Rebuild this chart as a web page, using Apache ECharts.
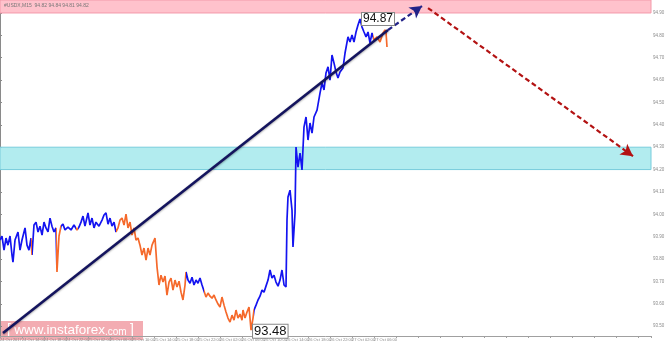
<!DOCTYPE html>
<html><head><meta charset="utf-8">
<script src="https://cdn.jsdelivr.net/npm/echarts@6/dist/echarts.min.js"></script>
<style>html,body{margin:0;padding:0;background:#fff}#c{width:665px;height:345px}</style>
</head><body><div id="c"></div>
<script>
// time in hours from 24 Oct 2017 ~10:00 (M15 chart)
const times = [0,0.36,0.73,1.09,1.45,1.82,2.18,2.36,2.73,3.27,3.64,4.0,4.55,4.91,5.27,5.64,5.82,6.18,6.55,6.91,7.27,7.64,8.0,8.36,8.73,9.09,9.45,9.82,10.18,10.36,10.73,11.09,11.45,11.82,12.36,12.91,13.45,14.0,14.36,14.73,15.09,15.45,16.0,16.36,16.73,17.09,17.45,18.0,18.55,18.91,19.27,19.64,20.0,20.36,20.73,21.09,21.45,21.82,22.18,22.55,22.91,23.27,23.64,24.0,24.36,24.73,25.09,25.45,25.82,26.18,26.55,26.91,27.27,27.64,28.18,28.55,28.91,29.27,29.64,30.0,30.36,30.73,31.09,31.45,31.82,32.18,32.55,32.91,33.27,33.64,33.82,34.18,34.55,34.91,35.27,35.64,36.0,36.36,36.73,37.09,37.45,37.82,38.18,38.55,38.91,39.27,39.64,40.0,40.36,40.73,41.09,41.45,41.82,42.18,42.55,42.91,43.27,43.64,44.0,44.18,44.55,44.91,45.27,45.45,45.64,46.0,46.18,46.55,46.91,47.27,47.64,48.0,48.36,48.73,49.09,49.45,49.82,50.18,50.55,50.91,51.27,51.64,52.0,52.18,52.36,52.73,53.09,53.27,53.64,53.82,54.18,54.55,54.91,55.27,55.64,56.0,56.36,56.73,57.09,57.64,58.18,58.55,58.91,59.27,59.64,60.0,60.36,60.73,61.09,61.45,61.82,62.36,62.73,63.27,63.64,64.0,64.36,64.73,65.09,65.45,65.82,66.18,66.55,66.91,67.27,67.64,68.0,68.55,69.09,69.64,70.0,70.18,70.36];
const prices = [93.885,93.903,93.840,93.894,93.862,93.903,93.818,93.786,93.885,93.921,93.840,93.885,93.939,93.862,93.840,93.894,93.818,93.952,93.965,93.921,93.947,93.907,93.965,93.939,93.921,93.983,93.947,93.921,93.939,93.742,93.903,93.947,93.956,93.930,93.943,93.930,93.952,93.930,93.943,93.965,93.992,93.947,94.006,93.952,93.983,93.939,93.965,93.947,93.974,93.997,94.006,93.956,93.983,93.947,93.965,93.921,93.939,93.974,93.983,93.952,94.001,93.939,93.965,93.907,93.939,93.885,93.894,93.862,93.818,93.849,93.795,93.849,93.818,93.862,93.894,93.764,93.684,93.728,93.697,93.724,93.639,93.697,93.715,93.661,93.706,93.675,93.701,93.652,93.617,93.684,93.742,93.706,93.692,93.719,93.684,93.706,93.692,93.715,93.684,93.657,93.630,93.648,93.634,93.625,93.639,93.617,93.599,93.585,93.630,93.594,93.563,93.536,93.518,93.549,93.527,93.572,93.536,93.554,93.527,93.572,93.536,93.563,93.585,93.536,93.482,93.536,93.572,93.594,93.617,93.634,93.661,93.652,93.679,93.706,93.751,93.715,93.728,93.697,93.679,93.706,93.751,93.684,93.675,93.974,94.077,94.108,94.019,93.854,94.006,94.301,94.211,94.274,94.198,94.390,94.435,94.332,94.408,94.363,94.435,94.466,94.542,94.587,94.556,94.632,94.659,94.600,94.712,94.676,94.636,94.609,94.636,94.654,94.721,94.793,94.770,94.802,94.770,94.815,94.846,94.873,94.837,94.815,94.793,94.815,94.766,94.811,94.779,94.793,94.770,94.811,94.824,94.815,94.748];
// falling legs (orange), in hours
const downLegs = [[5.6,5.9],[10.2,11.1],[13.9,14.1],[21.0,33.82],[37.0,46.1],[67.8,71]];
const lastPrice = 94.83;
const header = '#USDX,M15  94.82 94.84 94.81 94.82';
const xTickLabels = ['24 Oct 2017','24 Oct 14:00','24 Oct 18:00','24 Oct 22:00','25 Oct 02:00','25 Oct 06:00','25 Oct 10:00','25 Oct 14:00','25 Oct 18:00','25 Oct 22:00','26 Oct 02:00','26 Oct 06:00','26 Oct 10:00','26 Oct 14:00','26 Oct 18:00','26 Oct 22:00','27 Oct 02:00','27 Oct 06:00'];
const yTickValues = [93.5,93.6,93.7,93.8,93.9,94.0,94.1,94.2,94.3,94.4,94.5,94.6,94.7,94.8,94.9];
const resistanceZone = [94.90, 94.958];
const supportZone = [94.20, 94.30];
const trendSolid = [[0.55,93.469],[70.55,94.824]];
const trendDashed = [[70.55,94.824],[76.73,94.931]];
const forecast = [[77.82,94.922],[115.09,94.260]];
const yMin = 93.456, yMax = 94.958, xMax = 118.36;

const chart = echarts.init(document.getElementById('c'));
const priceData = times.map((t,i)=>[t,prices[i]]);
chart.setOption({
  animation:false,
  grid:{left:0,right:14,top:0,bottom:9,outerBoundsMode:'none',containLabel:false},
  xAxis:{type:'value',min:0,max:xMax,interval:4,
    axisLine:{show:true,lineStyle:{color:'#a0a0a0',width:1}},
    axisTick:{show:true,length:2,lineStyle:{color:'#a0a0a0'}},
    splitLine:{show:false},
    axisLabel:{show:true,align:'left',margin:2,fontSize:4,color:'#8a8a8a',fontFamily:'Liberation Sans Narrow, Liberation Sans',
      hideOverlap:false,
      formatter:(v)=>{const i=Math.round(v/4);return xTickLabels[i]||'';}}},
  yAxis:{type:'value',position:'right',min:yMin,max:yMax,
    axisLine:{show:true,lineStyle:{color:'#8a8a8a',width:1}},
    axisTick:{show:true,length:2,customValues:yTickValues,lineStyle:{color:'#8a8a8a'}},
    splitLine:{show:false},
    axisLabel:{show:true,margin:2,fontSize:4.5,color:'#8a8a8a',fontFamily:'Liberation Sans',hideOverlap:false,
      customValues:yTickValues,formatter:(v)=>v.toFixed(2)}},
  visualMap:{type:'piecewise',show:false,dimension:0,seriesIndex:1,
    pieces:downLegs.map(d=>({gte:d[0],lte:d[1],color:'#f5692b'})),
    outOfRange:{color:'#1414f0'}},
  graphic:[
    {type:'text',left:4,top:3,z:100,style:{text:header,fontSize:5,fill:'#777',fontFamily:'Liberation Sans'}},
    {type:'group',left:0,top:321,z:100,children:[
      {type:'rect',shape:{x:0,y:0,width:143,height:19},style:{fill:'rgba(228,70,85,0.45)'}},
      {type:'text',x:7,y:2,style:{
        text:'{br|[} {a|www.instaforex}{b|.com} {br|]}',
        fill:'#fff',fontFamily:'Liberation Sans',
        rich:{
          br:{fontSize:14,fill:'#fff',fontFamily:'Liberation Sans',verticalAlign:'bottom'},
          a:{fontSize:13.5,fill:'#fff',fontFamily:'Liberation Sans',verticalAlign:'bottom'},
          b:{fontSize:10,fill:'#fff',fontFamily:'Liberation Sans',verticalAlign:'bottom'}
        }}}
    ]}
  ],
  series:[
    {type:'line',data:[],silent:true,z:1,
      markArea:{silent:true,data:[
        [{yAxis:resistanceZone[0],itemStyle:{color:'#ffc2cc',borderColor:'#f39aaa',borderWidth:1}},{yAxis:resistanceZone[1]}],
        [{yAxis:supportZone[0],itemStyle:{color:'#b2ecef',borderColor:'#78ccdc',borderWidth:1}},{yAxis:supportZone[1]}]
      ]}},
    {type:'line',data:priceData,showSymbol:false,symbol:'none',z:3,
      lineStyle:{width:1.7},
      markPoint:{symbol:'rect',symbolSize:0,
        label:{show:true,position:'right',distance:2,color:'#111',fontSize:12,fontFamily:'Liberation Sans',
          backgroundColor:'#fff',borderColor:'#888',borderWidth:1,padding:[0,1,0,1],
          formatter:(p)=>p.value.toFixed(2)},
        data:[{type:'max',valueDim:'y'},{type:'min',valueDim:'y',label:{offset:[0,1],fontSize:13}}]}},
    {type:'line',data:[],z:5,silent:true,
      markLine:{silent:true,animation:false,data:[
        [{coord:trendSolid[0],symbol:'none'},{coord:trendSolid[1],symbol:'none'}]
      ],lineStyle:{color:'#14145e',width:2.6,type:'solid',shadowColor:'rgba(0,0,0,0.35)',shadowBlur:2,shadowOffsetY:1},label:{show:false}}},
    {type:'line',data:[],z:5,silent:true,
      markLine:{silent:true,symbol:['none','arrow'],symbolSize:[10,12],data:[
        [{coord:trendDashed[0]},{coord:trendDashed[1]}]
      ],lineStyle:{color:'#222288',width:2.2,type:[5,3]},label:{show:false}}},
    {type:'line',data:[],z:5,silent:true,
      markLine:{silent:true,symbol:['none','arrow'],symbolSize:[10,12],data:[
        [{coord:forecast[0]},{coord:forecast[1]}]
      ],lineStyle:{color:'#b31212',width:2.2,type:[5,3]},label:{show:false}}},
    {type:'line',data:[],z:20,silent:true,
      markLine:{silent:true,symbol:'none',lineStyle:{width:0,opacity:0},
        label:{show:true,position:'end',distance:1,color:'#fff',backgroundColor:'#33333f',fontSize:4.5,
          fontFamily:'Liberation Sans',padding:[1,1,1,1],formatter:()=>lastPrice.toFixed(2)},
        data:[{yAxis:lastPrice}]}}
  ]
});
</script></body></html>
